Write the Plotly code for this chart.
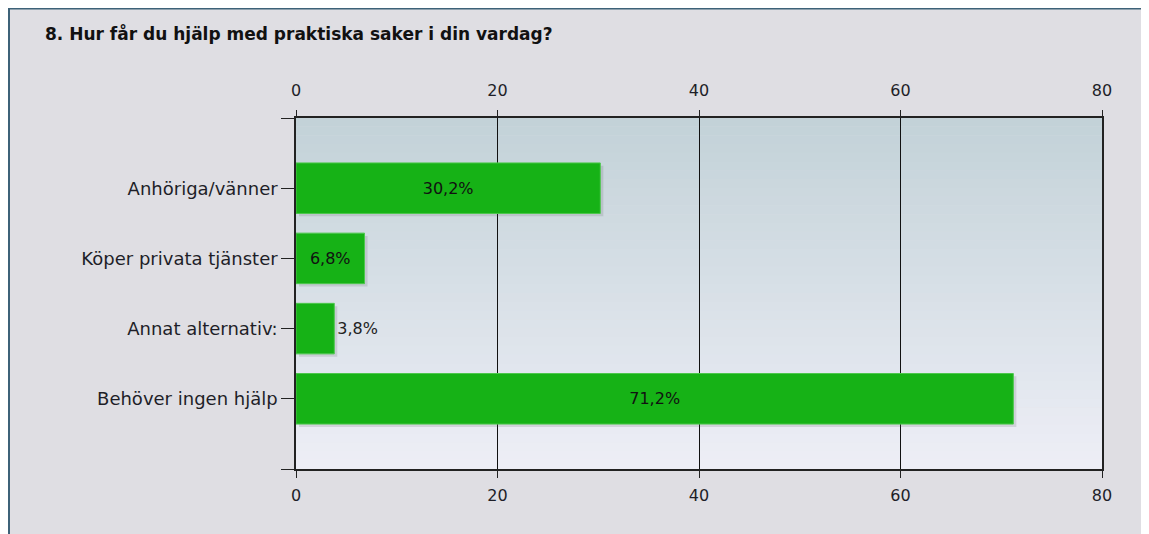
import plotly.graph_objects as go

# data
categories = ["Anhöriga/vänner", "Köper privata tjänster", "Annat alternativ:", "Behöver ingen hjälp"]
percent = [30.2, 6.8, 3.8, 71.2]
x_ticks = [0, 20, 40, 60, 80]

# page body adds an 8px margin, so the figure is a bit smaller than the window
W, H = 1141, 526
L, R, T, B = 288, 47, 110, 65
pw, ph = W - L - R, H - T - B


def px_x(p):
    # figure pixel -> paper coordinate (horizontal)
    return (p - L) / pw


def px_y(p):
    return 1 - (p - T) / ph


font = "DejaVu Sans"
ypos = list(range(len(categories)))
labels = [f"{v:.1f}%".replace(".", ",") for v in percent]
# short bars get their label outside
text_pos = ["inside" if v > 5 else "outside" for v in percent]

fig = go.Figure()

# soft shadow behind bars
fig.add_trace(go.Bar(
    x=percent, y=ypos, orientation="h", base=0.3, width=0.72, offset=-0.32,
    marker=dict(color="rgba(80,80,80,0.16)", line=dict(width=0)),
    hoverinfo="skip", showlegend=False,
))
fig.add_trace(go.Bar(
    x=percent, y=ypos, orientation="h", width=0.72,
    marker=dict(color="#16b216", line=dict(color="#4cc84c", width=1)),
    text=labels, textposition=text_pos, textangle=0, insidetextanchor="middle",
    textfont=dict(family=font, size=16, color="#111"),
    outsidetextfont=dict(family=font, size=16, color="#222"),
    cliponaxis=False, showlegend=False,
))
# invisible trace so the top axis is drawn
fig.add_trace(go.Scatter(x=[0, 80], y=[0, 0], xaxis="x2", mode="markers",
                         marker=dict(opacity=0), hoverinfo="skip", showlegend=False))

shapes = []
# dark frame on the left and top edges
shapes.append(dict(type="line", xref="paper", yref="paper", layer="below",
                   x0=px_x(1), x1=px_x(1), y0=px_y(0), y1=px_y(H + 2),
                   line=dict(color="#3d6278", width=2)))
shapes.append(dict(type="line", xref="paper", yref="paper", layer="below",
                   x0=px_x(0), x1=px_x(W + 2), y0=px_y(0.5), y1=px_y(0.5),
                   line=dict(color="#3d6278", width=2)))
# plot area gradient
n = 40
top_c = (195, 210, 216)
bot_c = (237, 238, 246)
for i in range(n):
    t = i / (n - 1)
    c = tuple(round(top_c[k] + (bot_c[k] - top_c[k]) * t) for k in range(3))
    shapes.append(dict(type="rect", xref="paper", yref="paper", layer="below",
                       x0=0, x1=1, y0=1 - (i + 1) / n, y1=1 - i / n + 0.001,
                       fillcolor=f"rgb{c}", line=dict(width=0)))

num_font = dict(family=font, size=16, color="#1e1e28")
cat_font = dict(family=font, size=18, color="#1e1e28")

fig.update_layout(
    width=W, height=H,
    margin=dict(l=L, r=R, t=T, b=B),
    paper_bgcolor="#dfdee3",
    plot_bgcolor="rgba(0,0,0,0)",
    barmode="overlay",
    shapes=shapes,
    title=dict(text="<b>8. Hur får du hjälp med praktiska saker i din vardag?</b>",
               x=37 / W, xref="container", xanchor="left",
               y=1 - 26 / H, yref="container", yanchor="middle",
               font=dict(family=font, size=17, color="#111")),
    xaxis=dict(range=[0, 80], tickvals=x_ticks, showgrid=True, gridcolor="#111", gridwidth=1,
               zeroline=False, showline=True, linecolor="#222", linewidth=1.5, mirror=True,
               ticks="outside", ticklen=7, tickcolor="#222", tickfont=num_font,
               ticklabelstandoff=4),
    xaxis2=dict(range=[0, 80], tickvals=x_ticks, overlaying="x", side="top", matches="x",
                showgrid=False, zeroline=False, showline=False,
                ticks="outside", ticklen=7, tickcolor="#222", tickfont=num_font,
                ticklabelstandoff=8),
    yaxis=dict(range=[len(categories), -1],
               tickvals=[-1] + ypos + [len(categories)],
               ticktext=[""] + categories + [""],
               showgrid=False, zeroline=False, showline=True, linecolor="#222",
               linewidth=1.5, mirror=True, ticks="outside", ticklen=13,
               tickcolor="#222", tickfont=cat_font),
)

fig.write_html("out.html")
